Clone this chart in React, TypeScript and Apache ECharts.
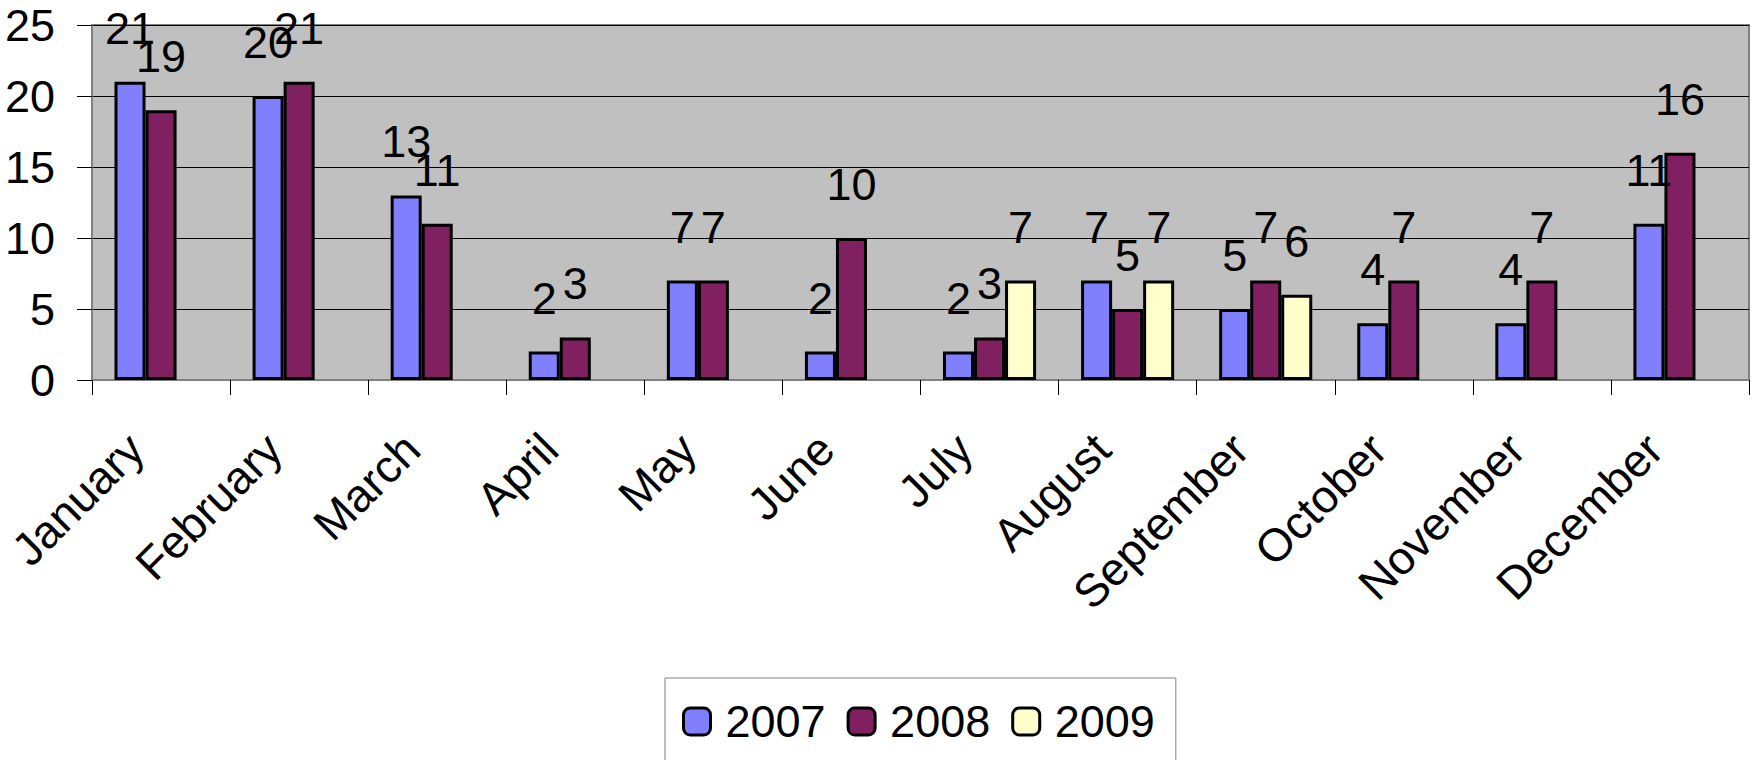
import React, { useEffect, useRef } from "react";
import * as echarts from "echarts";

const categories = ["January", "February", "March", "April", "May", "June", "July", "August", "September", "October", "November", "December"];
const seriesNames = ["2007", "2008", "2009"];
const values2007 = [21, 20, 13, 2, 7, 2, 2, 7, 5, 4, 4, 11];
const values2008 = [19, 21, 11, 3, 7, 10, 3, 5, 7, 7, 7, 16];
const values2009 = [null, null, null, null, null, null, 7, 7, 6, null, null, null];
const colors = ["#8080FF", "#802060", "#FFFFCC"];

const FONT = "'Liberation Sans', Arial, sans-serif";

export default function App() {
  const ref = useRef<HTMLDivElement>(null);
  useEffect(() => {
    if (!ref.current) return;
    const chart = echarts.init(ref.current, null, { renderer: "svg" });
    const all = [values2007, values2008, values2009];
    chart.setOption({
      animation: false,
      backgroundColor: "#ffffff",
      textStyle: { fontFamily: FONT },
      grid: {
        left: 92,
        top: 25,
        right: 3,
        bottom: 380,
        show: true,
        backgroundColor: "#C0C0C0",
        borderColor: "#808080",
        borderWidth: 2,
      },
      legend: {
        left: 665,
        top: 678,
        width: 504,
        data: seriesNames,
        itemWidth: 27,
        itemHeight: 27,
        itemGap: 21,
        padding: [21, 21, 80, 17],
        borderColor: "#808080",
        borderWidth: 1,
        backgroundColor: "#ffffff",
        textStyle: { fontSize: 45, color: "#000", fontFamily: FONT, padding: [0, 0, 0, 10] },
        itemStyle: { borderColor: "#000", borderWidth: 3 },
      },
      xAxis: {
        type: "category",
        data: categories,
        boundaryGap: true,
        axisLine: { show: true, lineStyle: { color: "#808080", width: 2 } },
        axisTick: { show: true, length: 15, lineStyle: { color: "#000", width: 1 } },
        axisLabel: {
          rotate: 45,
          interval: 0,
          margin: 36,
          fontSize: 46,
          color: "#000",
          fontFamily: FONT,
          padding: [0, 36, 0, 0],
        },
        splitLine: { show: false },
      },
      yAxis: {
        type: "value",
        min: 0,
        max: 25,
        interval: 5,
        axisLine: { show: true, lineStyle: { color: "#808080", width: 2 } },
        axisTick: { show: true, length: 15, lineStyle: { color: "#000", width: 1 } },
        axisLabel: { margin: 37, fontSize: 45, color: "#000", fontFamily: FONT },
        splitLine: { show: true, lineStyle: { color: "#000", width: 1 } },
      },
      series: seriesNames.map((name, i) => ({
        name,
        type: "bar",
        data: all[i],
        barGap: "0%",
        barCategoryGap: "32.6%",
        itemStyle: { color: colors[i], borderColor: "#000", borderWidth: 3 },
        label: {
          show: true,
          position: "top",
          distance: 31,
          fontSize: 45,
          color: "#000",
          fontFamily: FONT,
        },
      })),
    });
    return () => chart.dispose();
  }, []);
  return (
    <div
      ref={ref}
      style={{ position: "fixed", left: 0, top: 0, width: 1752, height: 760 }}
    />
  );
}
